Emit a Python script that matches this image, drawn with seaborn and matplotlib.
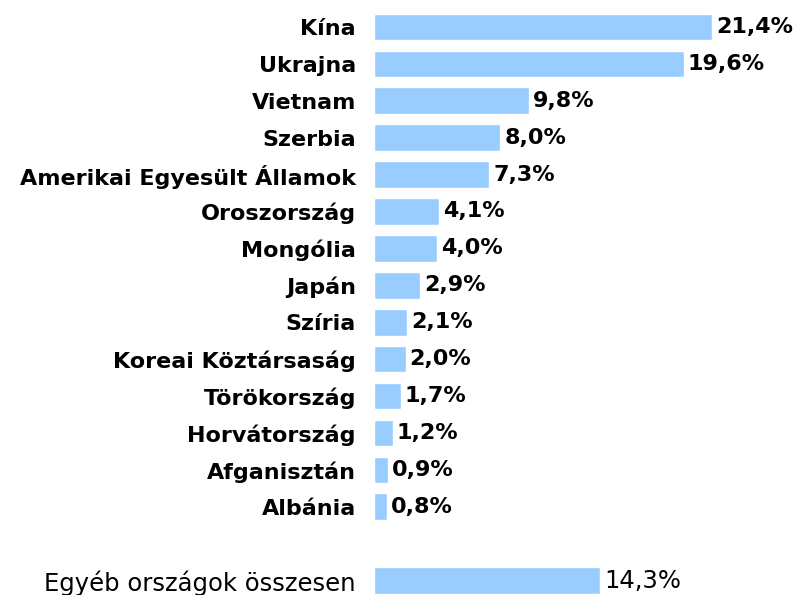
import pandas as pd
import matplotlib.pyplot as plt
import seaborn as sns

# Adatok
orszagok = ['Kína', 'Ukrajna', 'Vietnam', 'Szerbia', 'Amerikai Egyesült Államok',
            'Oroszország', 'Mongólia', 'Japán', 'Szíria', 'Koreai Köztársaság',
            'Törökország', 'Horvátország', 'Afganisztán', 'Albánia']
aranyok = [21.4, 19.6, 9.8, 8.0, 7.3, 4.1, 4.0, 2.9, 2.1, 2.0, 1.7, 1.2, 0.9, 0.8]
egyeb_nev = 'Egyéb országok összesen'
egyeb_arany = 14.3

sorrend = orszagok + [' '] + [egyeb_nev]
df = pd.DataFrame({'orszag': orszagok + [egyeb_nev],
                   'arany': aranyok + [egyeb_arany]})

sns.set_style('white')
plt.rcParams['font.family'] = ['DejaVu Sans']

fig = plt.figure(figsize=(8.03, 5.95), dpi=100)
ax = fig.add_axes([374 / 803, 0, 1 - 374 / 803, 1])

sns.barplot(data=df, x='arany', y='orszag', order=sorrend, orient='h',
            color='#99CCFF', saturation=1, width=0.72, ax=ax)

ax.set_xlim(0, (803 - 374) / 15.8)
ax.set_ylim(15.39, -0.73)
ax.set_xlabel('')
ax.set_ylabel('')
ax.set_xticks([])
sns.despine(ax=ax, left=True, bottom=True)
ax.tick_params(axis='y', length=0, pad=13, labelsize=16, labelcolor='black')

for lab in ax.get_yticklabels():
    if lab.get_text() == egyeb_nev:
        lab.set_fontweight('normal')
        lab.set_fontsize(17.5)
    else:
        lab.set_fontweight('bold')

# Értékcímkék
for i, (nev, v) in enumerate(zip(df['orszag'], df['arany'])):
    pos = sorrend.index(nev)
    egyeb = nev == egyeb_nev
    ax.text(v + 0.25, pos, f'{v:.1f}%'.replace('.', ','), va='center', ha='left',
            fontsize=17.5 if egyeb else 16,
            fontweight='normal' if egyeb else 'bold', color='black')

fig.savefig('out.png', dpi=100)
